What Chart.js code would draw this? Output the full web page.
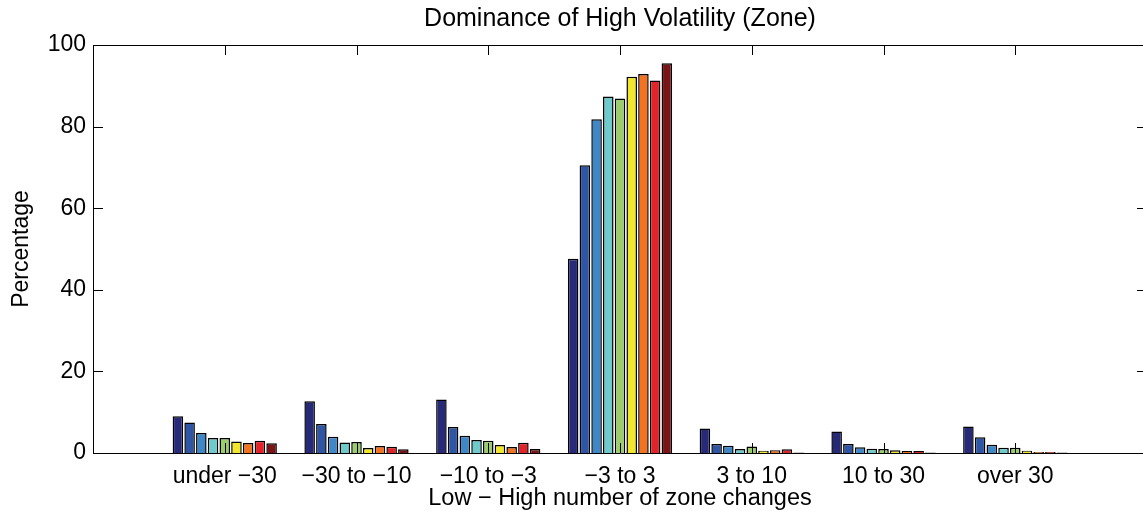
<!DOCTYPE html>
<html>
<head>
<meta charset="utf-8">
<script src="https://cdn.jsdelivr.net/npm/chart.js@4"></script>
<style>
html,body{margin:0;padding:0;background:#fff;overflow:hidden;}
#wrap{width:1143px;height:517px;overflow:hidden;}
canvas{display:block;}
</style>
</head>
<body>
<div id="wrap"><canvas id="c" width="1160" height="517"></canvas></div>
<script>
const categories = ['under \u221230', '\u221230 to \u221210', '\u221210 to \u22123', '\u22123 to 3', '3 to 10', '10 to 30', 'over 30'];
const series1 = [9.0, 12.7, 13.1, 47.6, 6.0, 5.3, 6.5];
const series2 = [7.5, 7.1, 6.4, 70.5, 2.2, 2.2, 3.85];
const series3 = [4.9, 4.0, 4.25, 81.8, 1.8, 1.4, 2.0];
const series4 = [3.7, 2.6, 3.2, 87.4, 1.0, 1.05, 1.3];
const series5 = [3.7, 2.7, 3.0, 86.9, 1.6, 1.0, 1.3];
const series6 = [2.8, 1.2, 1.96, 92.2, 0.57, 0.65, 0.57];
const series7 = [2.45, 1.7, 1.5, 92.9, 0.7, 0.5, 0.25];
const series8 = [3.0, 1.55, 2.5, 91.3, 0.9, 0.5, 0.25];
const series9 = [2.4, 0.9, 1.0, 95.5, 0.15, 0.15, 0.15];
const yTicks = [0, 20, 40, 60, 80, 100];
const colors = ['#262a78', '#2f55a5', '#4087c7', '#6fcacb', '#9ccd6c', '#f2e72a', '#f47321', '#e2232a', '#7b1416'];

const allSeries = [series1, series2, series3, series4, series5, series6, series7, series8, series9];
const labels = [''].concat(categories, ['']);
const FONT = "'Liberation Sans', Arial, Helvetica, sans-serif";

const boxPlugin = {
  id: 'boxPlugin',
  afterDatasetsDraw(chart) {
    const {ctx, chartArea: a, scales: {x, y}} = chart;
    ctx.save();
    ctx.strokeStyle = '#000';
    ctx.lineWidth = 1;
    ctx.beginPath();
    ctx.moveTo(a.right + 0.5, a.bottom + 0.5);
    ctx.lineTo(a.left + 0.5, a.bottom + 0.5);
    ctx.lineTo(a.left + 0.5, a.top + 0.5);
    ctx.lineTo(a.right + 0.5, a.top + 0.5);
    ctx.lineTo(a.right + 0.5, a.bottom + 0.5);
    const L = 10;
    for (let i = 1; i <= categories.length; i++) {
      const px = Math.round(x.getPixelForValue(i)) + 0.5;
      ctx.moveTo(px, a.bottom); ctx.lineTo(px, a.bottom - L);
      ctx.moveTo(px, a.top); ctx.lineTo(px, a.top + L);
    }
    yTicks.forEach(v => {
      const py = Math.round(y.getPixelForValue(v)) + 0.5;
      ctx.moveTo(a.left, py); ctx.lineTo(a.left + L, py);
      ctx.moveTo(a.right, py); ctx.lineTo(a.right - L, py);
    });
    ctx.stroke();
    ctx.restore();
  }
};

new Chart(document.getElementById('c'), {
  type: 'bar',
  data: {
    labels: labels,
    datasets: allSeries.map((s, i) => ({
      data: [null].concat(s, [null]),
      backgroundColor: colors[i],
      borderColor: '#000',
      borderWidth: 1.5,
      categoryPercentage: 0.8,
      barPercentage: 0.9
    }))
  },
  options: {
    responsive: false,
    animation: false,
    layout: {padding: {left: 0, right: 13, top: 0, bottom: 0}},
    plugins: {
      legend: {display: false},
      tooltip: {enabled: false},
      title: {
        display: true,
        fullSize: false,
        text: 'Dominance of High Volatility (Zone)',
        color: '#000',
        font: {family: FONT, size: 25, weight: 'normal'},
        padding: {top: 4, bottom: 11}
      }
    },
    scales: {
      x: {
        type: 'category',
        offset: false,
        grid: {display: false, drawTicks: false},
        border: {display: false},
        ticks: {autoSkip: false, maxRotation: 0, minRotation: 0, color: '#000', padding: 10,
                font: {family: FONT, size: 23}},
        title: {display: true, text: 'Low \u2212 High number of zone changes', color: '#000',
                font: {family: FONT, size: 23.5}, padding: {top: 0, bottom: 4}},
        afterFit(scale) { scale.height = 64; }
      },
      y: {
        min: 0, max: 100,
        afterBuildTicks(scale) { scale.ticks = yTicks.map(v => ({value: v})); },
        grid: {display: false, drawTicks: false},
        border: {display: false},
        ticks: {color: '#000', padding: 7, font: {family: FONT, size: 23}},
        title: {display: true, text: 'Percentage', color: '#000',
                font: {family: FONT, size: 23}, padding: {top: 8, bottom: 0}},
        afterFit(scale) { scale.width = 93; }
      }
    }
  },
  plugins: [boxPlugin]
});
</script>
</body>
</html>
